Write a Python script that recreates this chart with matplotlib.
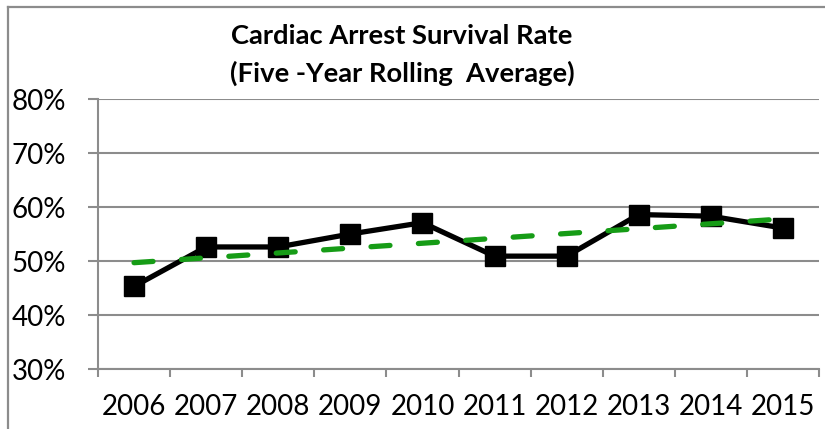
import numpy as np
import matplotlib.pyplot as plt
from matplotlib.lines import Line2D
from matplotlib.ticker import FixedLocator, PercentFormatter

plt.rcParams['font.family'] = ['Lato', 'DejaVu Sans']

years = ['2006', '2007', '2008', '2009', '2010', '2011', '2012', '2013', '2014', '2015']
survival = [45.3, 52.6, 52.6, 55.0, 57.1, 50.9, 50.9, 58.6, 58.3, 56.1]

x = np.arange(len(years))
# linear trendline like Excel
slope, intercept = np.polyfit(x, survival, 1)
trend = slope * x + intercept

fig = plt.figure(figsize=(8.25, 4.29), dpi=100)
ax = fig.add_axes([98/825, 1 - 369/429, (819 - 98)/825, (369 - 99)/429])

grey = '#8c8c8c'
ax.plot(x, survival, color='black', lw=3.8, marker='s', markersize=14, zorder=3)
ax.plot(x, trend, color='#169c16', lw=3.8, dashes=(3.6, 5.4),
        dash_capstyle='round', zorder=4)

ax.set_xlim(-0.5, len(years) - 0.5)
ax.set_ylim(30, 80)
ax.set_yticks(np.arange(30, 81, 10))
ax.yaxis.set_major_formatter(PercentFormatter(decimals=0))
ax.set_xticks(x)
ax.set_xticklabels(years)
ax.xaxis.set_minor_locator(FixedLocator(np.arange(-0.5, len(years), 1)))

ax.grid(axis='y', color=grey, lw=1.5)
ax.set_axisbelow(True)
for s in ['top', 'right']:
    ax.spines[s].set_visible(False)
for s in ['left', 'bottom']:
    ax.spines[s].set_color(grey)
    ax.spines[s].set_linewidth(1.5)

ax.tick_params(axis='y', direction='out', length=7, width=1.5, color=grey,
               labelsize=20, pad=16)
ax.tick_params(axis='x', which='major', length=0, labelsize=20, pad=18)
ax.tick_params(axis='x', which='minor', direction='out', length=6, width=1.5, color=grey)

fig.text(402/825, 1 - 36/429, 'Cardiac Arrest Survival Rate', ha='center', va='center',
         fontsize=19.7, fontweight='bold')
fig.text(402/825, 1 - 73/429, '(Five -Year Rolling  Average)', ha='center', va='center',
         fontsize=19.7, fontweight='bold')

# chart area border
fig.add_artist(Line2D([8/825, 8/825], [0, 1 - 7/429], color=grey, lw=1.6,
                      transform=fig.transFigure))
fig.add_artist(Line2D([8/825, 1], [1 - 7/429, 1 - 7/429], color=grey, lw=1.6,
                      transform=fig.transFigure))

fig.savefig('out.png', dpi=100)
